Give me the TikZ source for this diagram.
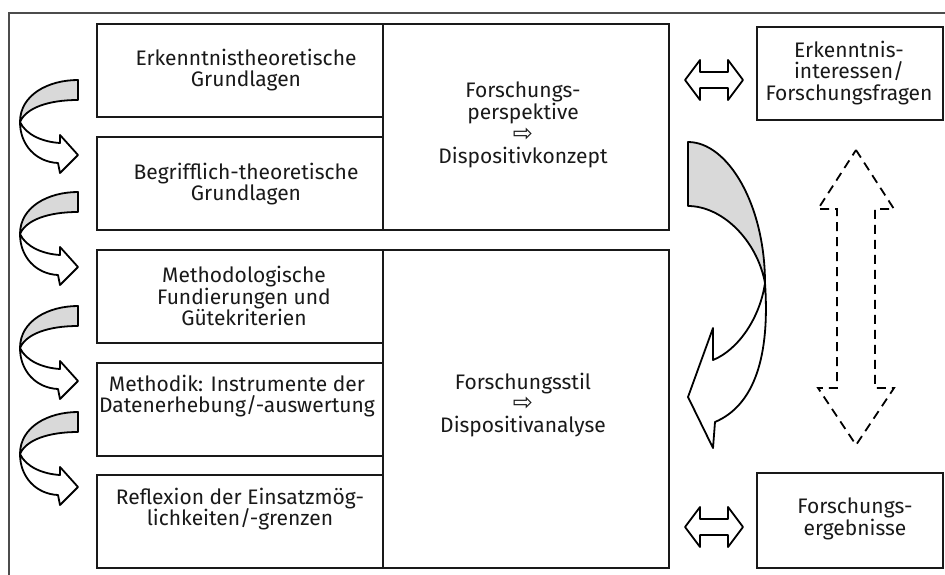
\documentclass[tikz,border=0pt]{standalone}
\usepackage{fontspec}
\setmainfont{Fira Sans}
\newfontfamily\symfont{DejaVu Sans}
\begin{document}
\begin{tikzpicture}[x=1pt,y=-1pt,
  frameline/.style={draw=black!70, line width=1.3pt},
  box/.style={draw=black!90, line width=2.2pt, minimum width=286, inner sep=0},
  rbox/.style={draw=black!90, line width=2.2pt, minimum width=186, inner sep=0},
  label/.style={font=\fontsize{21}{21.8}\selectfont, text=black!90, align=center, inner sep=0},
  ribbon/.style={draw=black, line width=1.8pt, line join=round},
  backside/.style={ribbon, fill=black!15},
  frontside/.style={ribbon, fill=white},
  dashedarrow/.style={draw=black, line width=1.8pt, dash pattern=on 9pt off 6pt},
  twist/.pic={
    \draw[backside] (0,0) .. controls (-30,0) and (-58,15) .. (-58,42)
      .. controls (-52,28) and (-30,20) .. (0,20) -- cycle;
    \draw[frontside] (-58,42) .. controls (-58,65) and (-42,82) .. (-20,83)
      -- (-18,93) -- (0,75) -- (-18,55) -- (-18,63)
      .. controls (-35,62) and (-52,55) .. (-58,42) -- cycle;
  },
  dblarrow/.pic={
    \draw[frontside] (-29,0) -- (-14,-20) -- (-14,-8) -- (14,-8) -- (14,-20)
      -- (29,0) -- (14,20) -- (14,8) -- (-14,8) -- (-14,20) -- cycle;
  }
]
\useasboundingbox (0,0) rectangle (945,574);
\clip (0,0) rectangle (945,574);
\fill[white] (0,0) rectangle (945,574);

% outer frame
\draw[frameline] (9,13) rectangle (960,590);

% middle column
\node[box, minimum height=206] (mtop) at (526,127) {};
\node[box, minimum height=318] (mbot) at (526,409) {};

% left column
\node[box, minimum height=93] (b1) at (240,70.5) {};
\node[box, minimum height=93] (b2) at (240,183.5) {};
\node[box, minimum height=93] (b3) at (240,296.5) {};
\node[box, minimum height=93] (b4) at (240,409.5) {};
\node[box, minimum height=93] (b5) at (240,521.5) {};

% right column
\node[rbox, minimum height=93] (rq) at (850,73.5) {};
\node[rbox, minimum height=95] (rr) at (850,520.5) {};

% texts
\node[label] (t1) at (246,70) {Erkenntnistheoretische\\Grundlagen};
\node[label] (t2) at (246,184) {Begrifflich-theoretische\\Grundlagen};
\node[label] (t3) at (244,296) {Methodologische\\Fundierungen und\\Gütekriterien};
\node[label] (t4) at (237,396) {Methodik: Instrumente der\\Datenerhebung/-auswertung};
\node[label] (t5) at (240,509) {Reflexion der Einsatzmög-\\lichkeiten/-grenzen};
\node[label] (m1) at (523,125) {Forschungs-\\perspektive\\{\symfont\fontsize{24}{15}\selectfont ⇨}\\Dispositivkonzept};
\node[label] (m2) at (523,405) {Forschungsstil\\{\symfont\fontsize{24}{15}\selectfont ⇨}\\Dispositivanalyse};
\node[label] (r1) at (849,73) {Erkenntnis-\\interessen/\\Forschungsfragen};
\node[label] (r2) at (855,519) {Forschungs-\\ergebnisse};

% twisted arrows on the left
\pic at (78,80) {twist};
\pic at (78,192) {twist};
\pic at (78,306) {twist};
\pic at (78,412) {twist};

% double arrows between middle and right column
\pic at (714,80) {dblarrow};
\pic at (714,527) {dblarrow};

% dashed vertical double arrow
\draw[dashedarrow] (856,150) -- (894,209) -- (875,209) -- (875,388) -- (894,388)
  -- (856,445) -- (818,388) -- (837,388) -- (837,209) -- (818,209) -- cycle;

% large curved arrow
\draw[backside] (688,142) .. controls (728,142) and (765,205) .. (765,283)
  .. controls (757,240) and (722,206) .. (688,206) -- cycle;
\draw[frontside] (765,283) .. controls (760,318) and (738,350) .. (713,360)
  -- (713,328) -- (688,397) -- (713,448) -- (715,422)
  .. controls (755,405) and (770,355) .. (765,283) -- cycle;
\end{tikzpicture}
\end{document}
